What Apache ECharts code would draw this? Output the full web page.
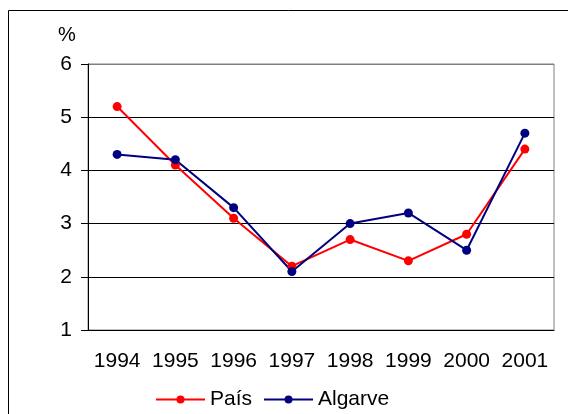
<!DOCTYPE html>
<html>
<head>
<meta charset="utf-8">
<script src="https://cdn.jsdelivr.net/npm/echarts@6/dist/echarts.min.js"></script>
<style>
  html, body { margin: 0; padding: 0; background: #fff; }
  #chart { width: 568px; height: 414px; }
</style>
</head>
<body>
<div id="chart"></div>
<script>
// data
const years = ["1994", "1995", "1996", "1997", "1998", "1999", "2000", "2001"];
const pais = [5.2, 4.1, 3.1, 2.2, 2.7, 2.3, 2.8, 4.4];
const algarve = [4.3, 4.2, 3.3, 2.1, 3.0, 3.2, 2.5, 4.7];

const font = "'Liberation Sans', Arial, sans-serif";

const chart = echarts.init(document.getElementById("chart"));
chart.setOption({
  animation: false,
  textStyle: { fontFamily: font },
  graphic: [
    {
      type: "rect",
      shape: { x: 8.5, y: 10.5, width: 700, height: 600 },
      style: { fill: "none", stroke: "#000", lineWidth: 1 },
      z: 0
    },
    {
      type: "text",
      x: 67, y: 35,
      style: { text: "%", font: "20px " + font, fill: "#000", align: "center", verticalAlign: "middle" }
    }
  ],
  grid: {
    left: 88, right: 14, top: 64, bottom: 84,
    show: true, borderColor: "#808080", borderWidth: 1
  },
  legend: {
    left: 155, top: 389, padding: 0,
    itemWidth: 49, itemHeight: 10, itemGap: 11,
    textStyle: { fontFamily: font, fontSize: 21, color: "#000" },
    data: ["País", "Algarve"]
  },
  xAxis: {
    type: "category",
    data: years,
    boundaryGap: true,
    axisLine: { lineStyle: { color: "#000", width: 1 } },
    axisTick: { interval: 0, length: 6, lineStyle: { color: "#000" } },
    axisLabel: { interval: 0, hideOverlap: false, color: "#000", fontSize: 21, fontFamily: font, margin: 21 },
    splitLine: { show: false }
  },
  yAxis: {
    type: "value",
    min: 1, max: 6, interval: 1,
    axisLine: { show: true, lineStyle: { color: "#000", width: 1 } },
    axisTick: { show: true, length: 7, lineStyle: { color: "#000" } },
    axisLabel: { color: "#000", fontSize: 21, fontFamily: font, margin: 16 },
    splitLine: { lineStyle: { color: ["#000", "#000", "#000", "#000", "#000", "#808080"], width: 1 } }
  },
  series: [
    {
      name: "País",
      type: "line",
      data: pais,
      color: "#ff0000",
      symbol: "circle",
      symbolSize: 9,
      lineStyle: { width: 2, color: "#ff0000" },
      itemStyle: { color: "#ff0000" }
    },
    {
      name: "Algarve",
      type: "line",
      data: algarve,
      color: "#000080",
      symbol: "circle",
      symbolSize: 9,
      lineStyle: { width: 2, color: "#000080" },
      itemStyle: { color: "#000080" }
    }
  ]
});
</script>
</body>
</html>
